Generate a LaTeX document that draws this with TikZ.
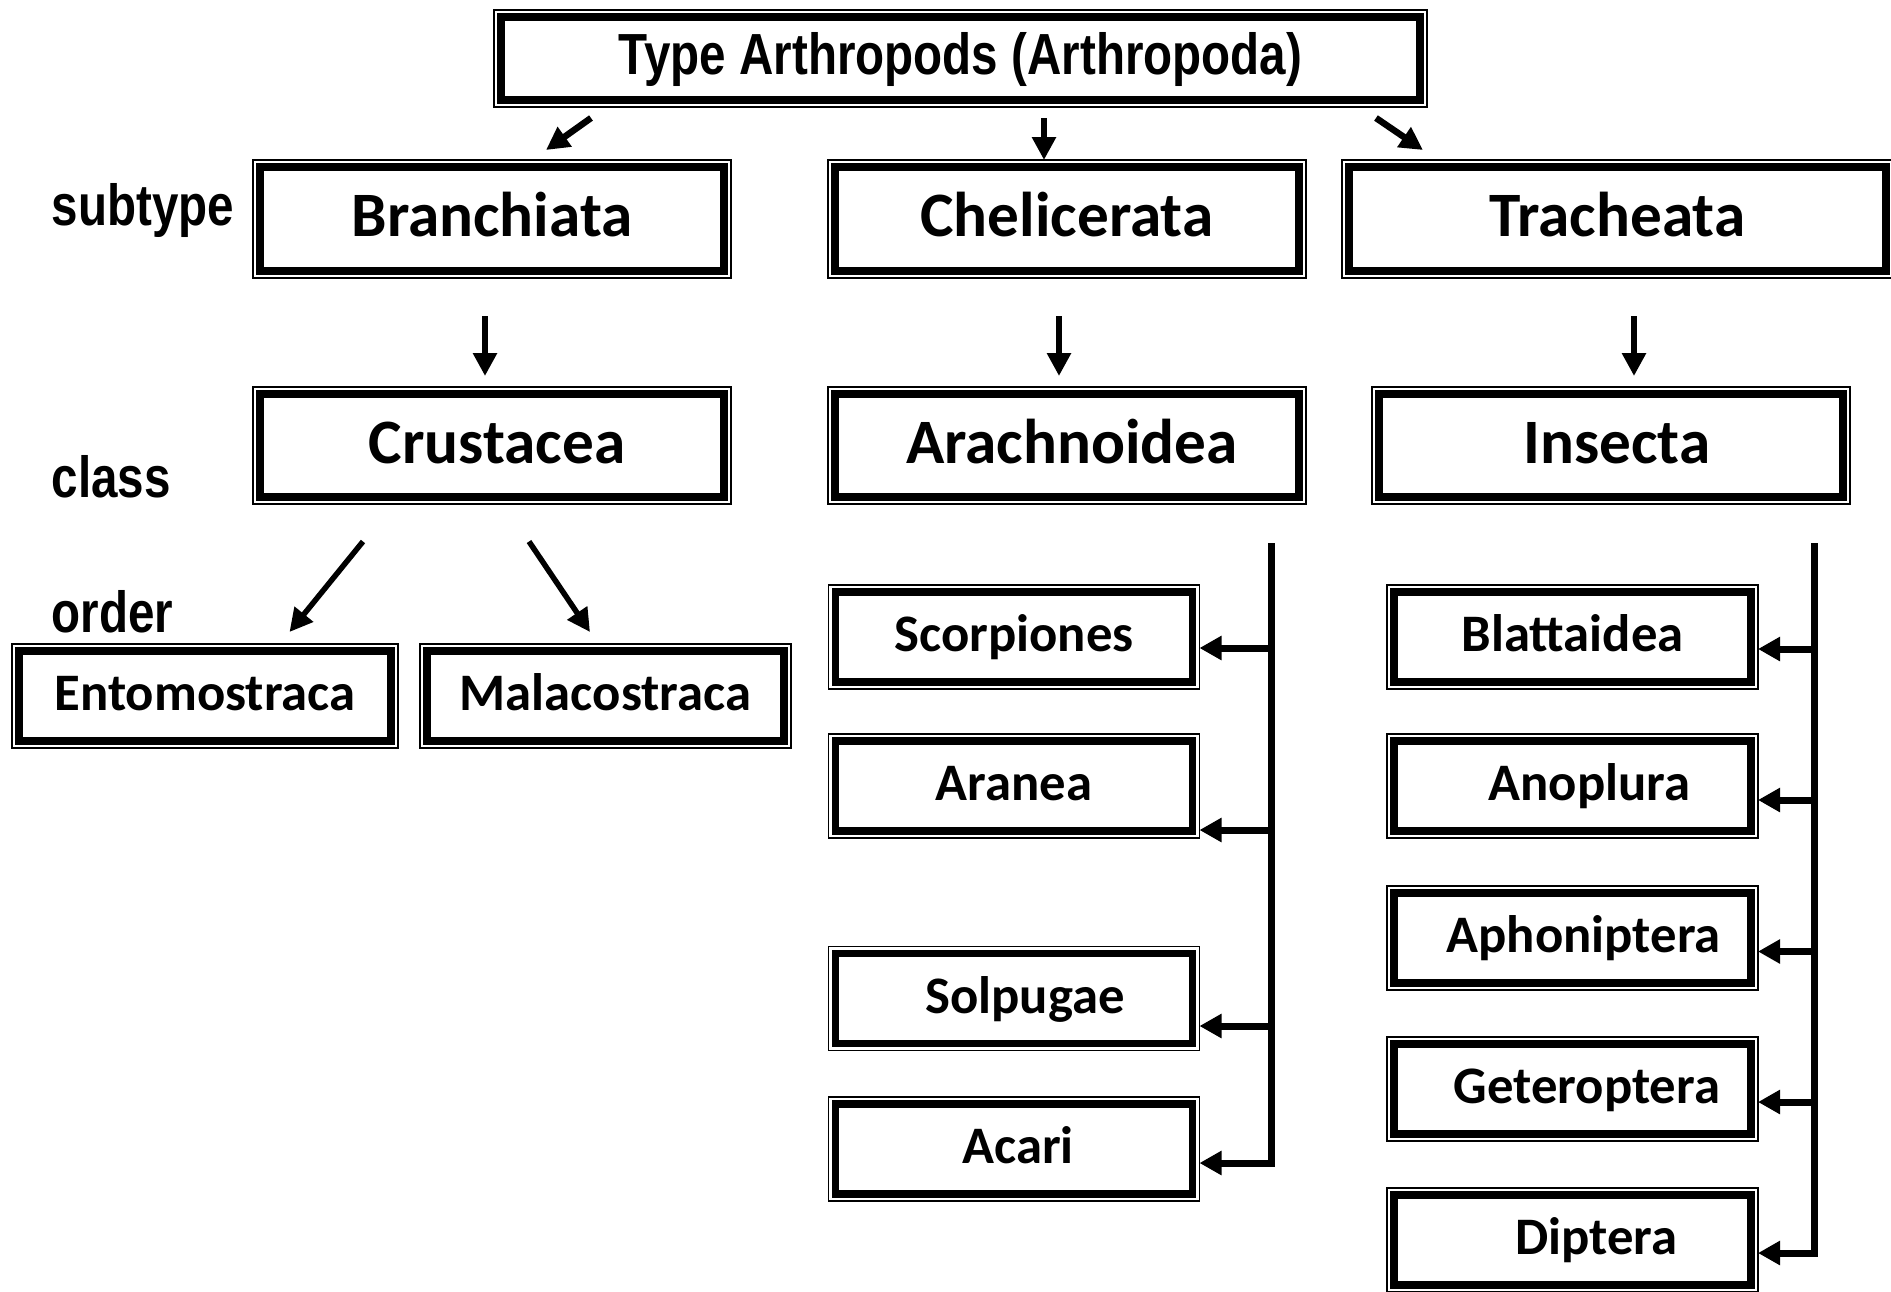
\documentclass[tikz,border=0pt]{standalone}
\usepackage{fontspec}
\setmainfont{Carlito}
\newfontfamily\narrowfont[FakeStretch=0.82]{Liberation Sans}
\usetikzlibrary{arrows.meta}
\definecolor{Ink}{HTML}{000000}
\definecolor{Paper}{HTML}{FFFFFF}
\tikzset{
  taxon/.style={draw=Ink,line width=0.75mm,outer sep=0.7mm,inner sep=0pt,minimum height=10.4mm,text=Ink,
    font=\bfseries\fontsize{18}{20}\selectfont,text height=11.6pt,text depth=1.6pt},
  order box/.style={taxon,minimum width=35.7mm,minimum height=9mm,
    font=\bfseries\fontsize{15}{17}\selectfont,text height=9.7pt,text depth=1.4pt},
  nudge/.style={execute at begin node={\hspace*{#1}}},
  outer frame/.style={draw=Ink,line width=0.15mm},
  rank label/.style={anchor=base west,text=Ink,inner sep=0pt,font=\narrowfont\bfseries\fontsize{16.5}{18}\selectfont},
  link/.style={draw=Ink,line width=0.65mm,-{Triangle[length=2.3mm,width=2.3mm]}},
  slant link/.style={link,line width=0.55mm},
  branch/.style={draw=Ink,line width=0.7mm,line join=miter,-{Triangle[length=2.2mm,width=2.3mm]}}
}

\begin{document}
\begin{tikzpicture}[x=0.1mm,y=-0.1mm]
  \fill[Paper] (0,0) rectangle (1891,1291);
  \useasboundingbox (0,0) rectangle (1891,1291);

  % type
  \node[taxon,minimum width=91.9mm,minimum height=8.3mm,font=\narrowfont\bfseries\fontsize{16.5}{18}\selectfont,
    text height=11.8pt,text depth=2.8pt] (phylum) at (960.5,58.5) {Type Arthropods (Arthropoda)};

  % subtypes
  \node[taxon,minimum width=46.4mm] (bran) at (492,219) {Branchiata};
  \node[taxon,minimum width=46.4mm] (cheli) at (1067,219) {Chelicerata};
  \node[taxon,minimum width=53.7mm] (trach) at (1617.5,219) {Tracheata};

  % classes
  \node[taxon,minimum width=46.4mm,minimum height=10.3mm,nudge=1mm] (crust) at (492,445.5) {Crustacea};
  \node[taxon,minimum width=46.4mm,minimum height=10.3mm,nudge=1mm] (arach) at (1067,445.5) {Arachnoidea};
  \node[taxon,minimum width=46.4mm,minimum height=10.3mm,nudge=1.2mm] (insect) at (1611,445.5) {Insecta};

  % orders
  \node[order box,minimum width=37.2mm] (ento) at (205,696) {Entomostraca};
  \node[order box] (mala) at (605.5,696) {Malacostraca};
  \node[order box] (scorp) at (1014,637) {Scorpiones};
  \node[order box] (aranea) at (1014,786) {Aranea};
  \node[order box,nudge=2.2mm] (solp) at (1014,998.5) {Solpugae};
  \node[order box,nudge=0.8mm] (acari) at (1014,1149) {Acari};
  \node[order box] (blatt) at (1572.5,637) {Blattaidea};
  \node[order box,nudge=3.4mm] (anopl) at (1572.5,786) {Anoplura};
  \node[order box,nudge=2.2mm] (aphon) at (1572.5,938) {Aphoniptera};
  \node[order box,nudge=2.9mm] (geter) at (1572.5,1089) {Geteroptera};
  \node[order box,nudge=4.8mm] (dipt) at (1572.5,1240) {Diptera};

  \foreach \n in {phylum,bran,cheli,trach,crust,arach,insect,ento,mala,scorp,aranea,solp,acari,blatt,anopl,aphon,geter,dipt}
    \draw[outer frame] (\n.south west) rectangle (\n.north east);

  % rank labels
  \node[rank label] (lsub) at (51,225) {subtype};
  \node[rank label] (lclass) at (51,497) {class};
  \node[rank label] (lorder) at (51,632) {order};

  % type -> subtypes
  \coordinate (t1) at (591,118);  \coordinate (t1e) at (546,150);
  \coordinate (t2) at (1044,118);
  \coordinate (t3) at (1376,118); \coordinate (t3e) at (1423,150);
  \draw[link] (t1) -- (t1e);
  \draw[link] (t2) -- (t2 |- cheli.north);
  \draw[link] (t3) -- (t3e);

  % subtypes -> classes
  \foreach \x/\n in {485/b,1059/c,1634/t}{
    \coordinate (s\n) at (\x,316);
    \coordinate (s\n e) at (\x,376);
    \draw[link] (s\n) -- (s\n e);
  }

  % Crustacea -> orders
  \coordinate (k1) at (363,541.5); \coordinate (k1e) at (289.5,632);
  \coordinate (k2) at (529,541.5); \coordinate (k2e) at (590,632);
  \draw[slant link] (k1) -- (k1e);
  \draw[slant link] (k2) -- (k2e);

  % Arachnoidea orders
  \coordinate (ctop) at (1271,543);
  \foreach \n/\y in {scorp/648,aranea/830,solp/1026}{
    \coordinate (cj) at (1271,\y);
    \draw[branch] (cj) -- (cj -| \n.east);
  }
  \coordinate (cend) at (1271,1163);
  \draw[branch] (ctop) -- (cend) -- (cend -| acari.east);

  % Insecta orders
  \coordinate (itop) at (1814,543);
  \foreach \n/\y in {blatt/649,anopl/800,aphon/951.5,geter/1102}{
    \coordinate (ij) at (1814,\y);
    \draw[branch] (ij) -- (ij -| \n.east);
  }
  \coordinate (iend) at (1814,1253);
  \draw[branch] (itop) -- (iend) -- (iend -| dipt.east);
\end{tikzpicture}
\end{document}
